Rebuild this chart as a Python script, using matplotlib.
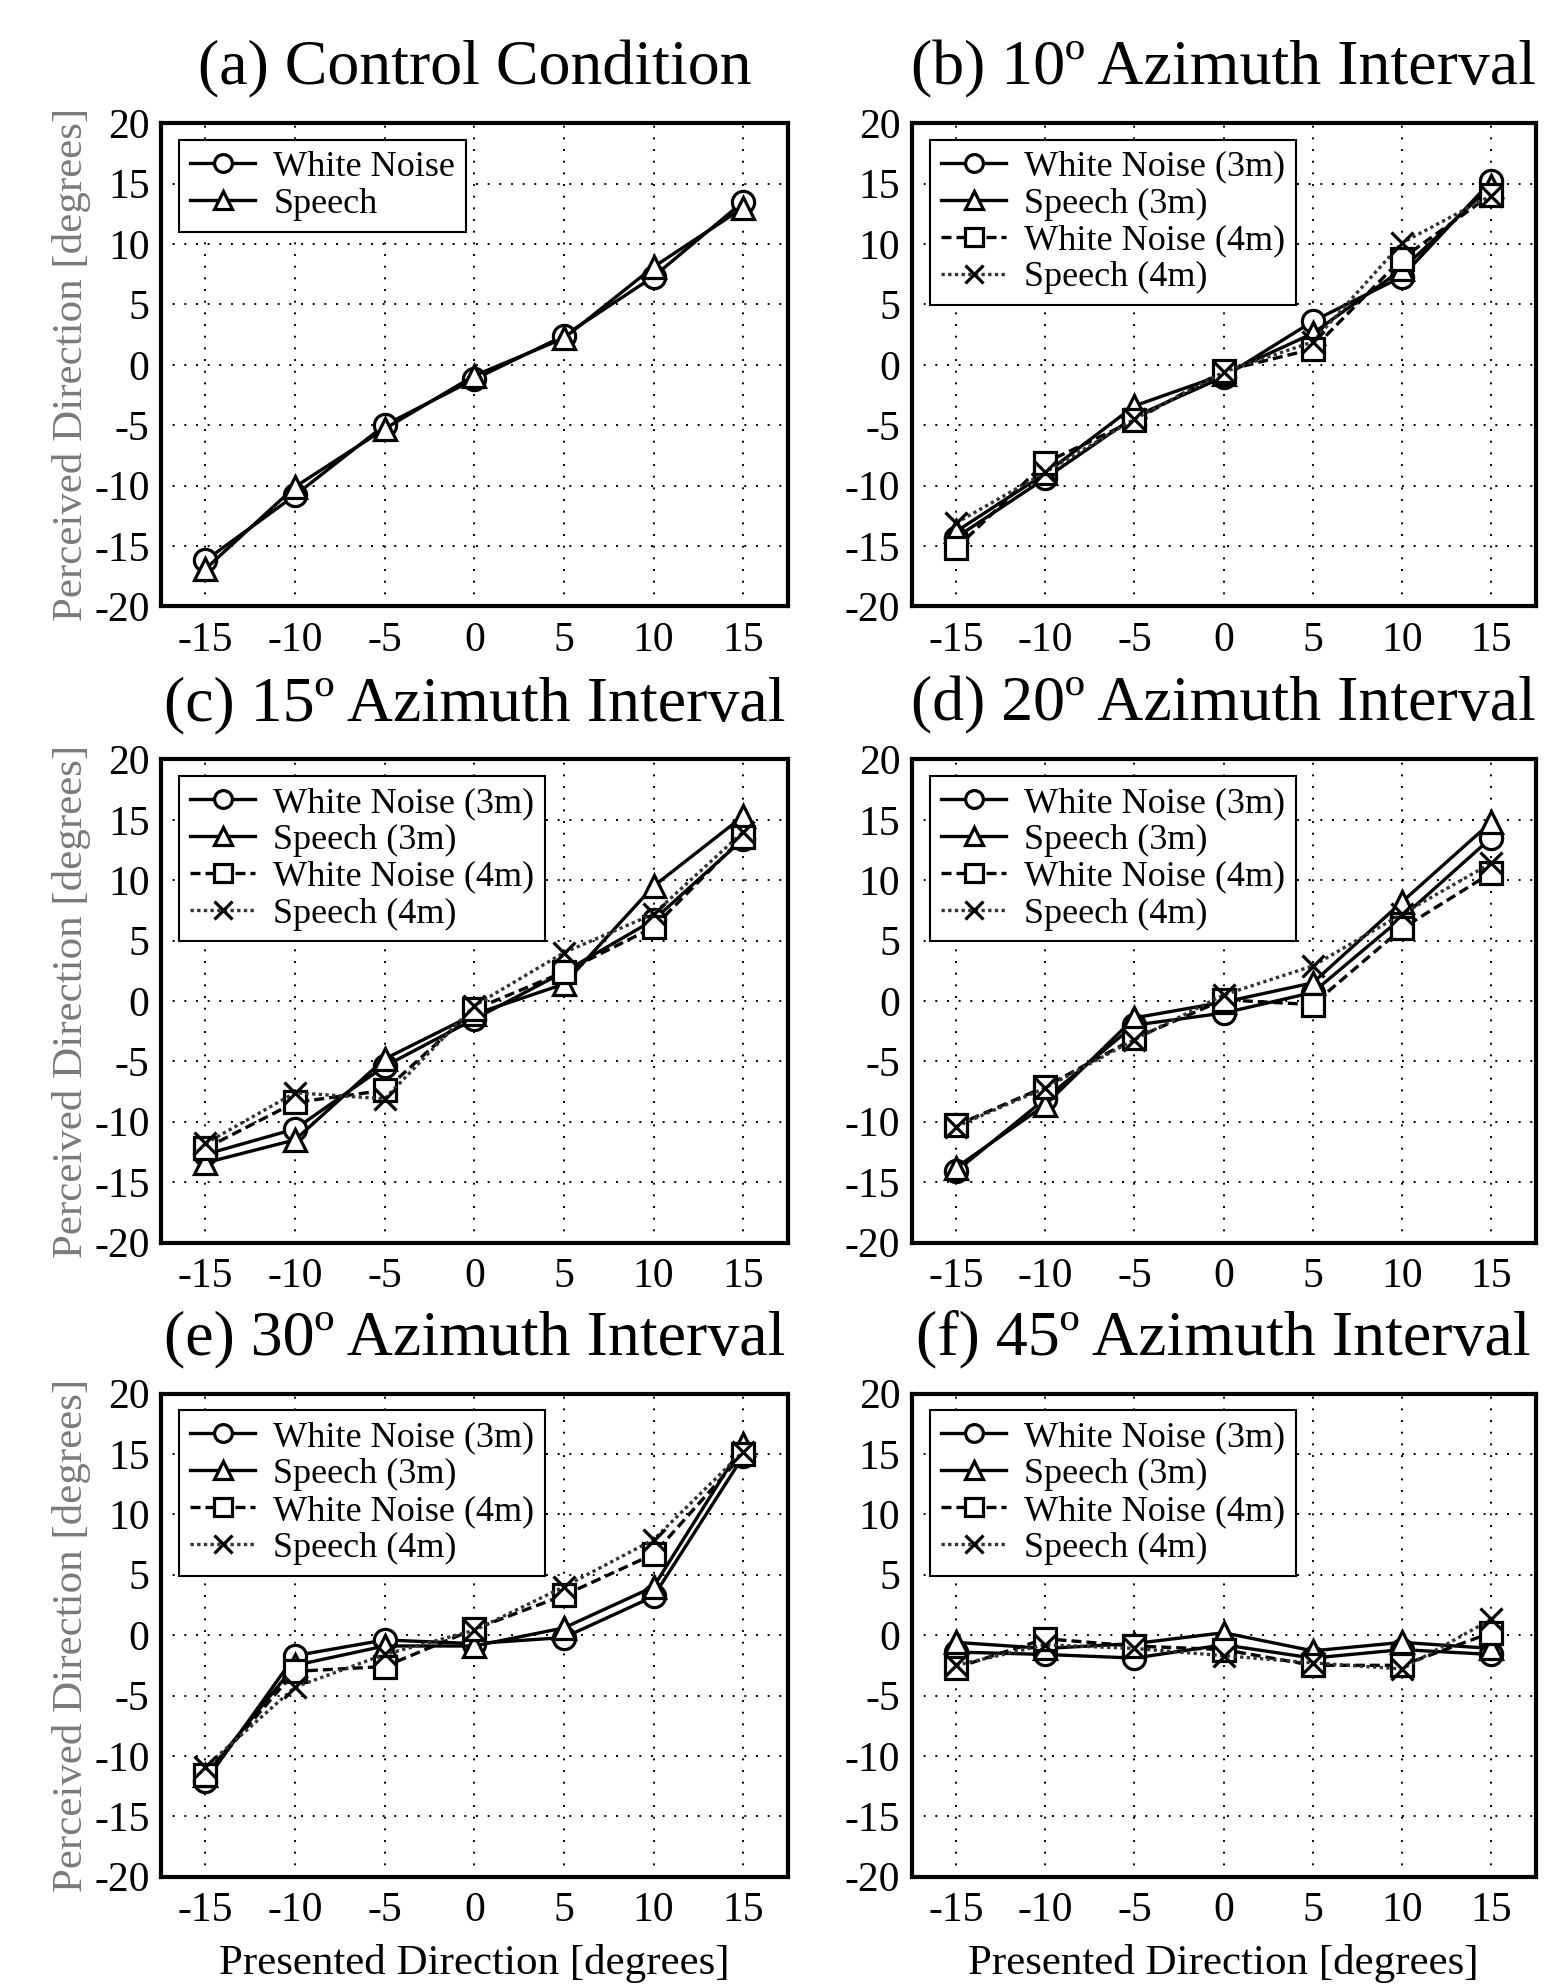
import matplotlib
matplotlib.use("Agg")
import matplotlib.pyplot as plt

plt.rcParams['font.family'] = 'serif'
plt.rcParams['font.serif'] = ['Liberation Serif', 'DejaVu Serif']
plt.rcParams['axes.unicode_minus'] = False

presented = [-15, -10, -5, 0, 5, 10, 15]

titles = ["(a) Control Condition", "(b) 10º Azimuth Interval",
          "(c) 15º Azimuth Interval", "(d) 20º Azimuth Interval",
          "(e) 30º Azimuth Interval", "(f) 45º Azimuth Interval"]

# (a) control condition: only two series
ctrl_noise = [-16.2, -10.8, -5.0, -1.2, 2.4, 7.3, 13.5]
ctrl_speech = [-16.9, -10.1, -5.3, -0.9, 2.2, 8.1, 13.0]

# (b) 10 deg
b_noise3 = [-14.3, -9.4, -4.3, -1.0, 3.6, 7.3, 15.2]
b_speech3 = [-13.8, -9.0, -3.4, -0.8, 2.6, 7.9, 14.8]
b_noise4 = [-15.2, -8.1, -4.6, -0.5, 1.3, 8.8, 14.1]
b_speech4 = [-13.1, -8.9, -4.5, -0.6, 1.9, 10.1, 14.0]

# (c) 15 deg
c_noise3 = [-12.7, -10.6, -5.4, -1.5, 2.4, 6.7, 13.4]
c_speech3 = [-13.4, -11.5, -4.8, -1.1, 1.4, 9.5, 15.3]
c_noise4 = [-12.2, -8.4, -7.4, -0.7, 2.4, 6.1, 13.6]
c_speech4 = [-11.8, -7.6, -8.1, -0.4, 4.0, 7.2, 14.0]

# (d) 20 deg
d_noise3 = [-14.1, -8.1, -2.0, -1.0, 0.7, 6.9, 13.5]
d_speech3 = [-13.8, -8.6, -1.4, -0.1, 1.5, 8.2, 14.8]
d_noise4 = [-10.3, -7.1, -3.1, 0.1, -0.3, 6.0, 10.6]
d_speech4 = [-10.4, -7.2, -3.2, 0.5, 2.9, 7.2, 11.4]

# (e) 30 deg
e_noise3 = [-12.1, -1.7, -0.4, -0.7, -0.2, 3.2, 14.8]
e_speech3 = [-11.6, -2.5, -0.9, -0.9, 0.6, 4.0, 15.8]
e_noise4 = [-11.6, -3.0, -2.6, 0.5, 3.3, 6.7, 15.0]
e_speech4 = [-10.9, -4.3, -1.6, 0.4, 4.0, 7.9, 15.2]

# (f) 45 deg
f_noise3 = [-1.4, -1.6, -1.9, -0.8, -1.9, -1.2, -1.6]
f_speech3 = [-0.6, -1.1, -0.7, 0.2, -1.3, -0.6, -1.1]
f_noise4 = [-2.7, -0.3, -0.9, -1.2, -2.5, -2.5, 0.2]
f_speech4 = [-2.5, -0.8, -1.1, -1.7, -2.3, -2.8, 1.3]

panels = [
    [ctrl_noise, ctrl_speech],
    [b_noise3, b_speech3, b_noise4, b_speech4],
    [c_noise3, c_speech3, c_noise4, c_speech4],
    [d_noise3, d_speech3, d_noise4, d_speech4],
    [e_noise3, e_speech3, e_noise4, e_speech4],
    [f_noise3, f_speech3, f_noise4, f_speech4],
]

labels4 = ["White Noise (3m)", "Speech (3m)", "White Noise (4m)", "Speech (4m)"]
labels2 = ["White Noise", "Speech"]
styles = [
    dict(marker='o', ls='-', color='black'),
    dict(marker='^', ls='-', color='black'),
    dict(marker='s', ls=(0, (3, 1.5)), color='black'),
    dict(marker='x', ls=(0, (1, 1)), color='#333333'),
]

fig = plt.figure(figsize=(15.45, 19.88), dpi=100)

lefts = [0.104, 0.590]
widths = [0.406, 0.404]
bottoms = [0.695, 0.375, 0.056]
height = 0.243

for i, series in enumerate(panels):
    row, col = divmod(i, 2)
    ax = fig.add_axes([lefts[col], bottoms[row], widths[col], height])
    labs = labels2 if len(series) == 2 else labels4
    for y, st, lab in zip(series, styles, labs):
        ax.plot(presented, y, marker=st['marker'], ls=st['ls'], color=st['color'],
                lw=2.4, ms=16, mfc='white', mec='black', mew=2.3, label=lab)
    ax.set_xlim(-17.5, 17.5)
    ax.set_ylim(-20, 20)
    ax.set_xticks(presented)
    ax.set_yticks(range(-20, 21, 5))
    ax.grid(True, ls=(0, (1, 5)), color='black', lw=1.4)
    ax.tick_params(labelsize=30, direction='in', length=0, pad=8)
    ax.tick_params(axis='x', pad=11)
    for sp in ax.spines.values():
        sp.set_linewidth(3)
    ax.set_title(titles[i], fontsize=46, pad=28)
    if col == 0:
        ax.set_ylabel("Perceived Direction [degrees]", fontsize=31, color='#7a7a7a', labelpad=2)
    if row == 2:
        ax.set_xlabel("Presented Direction [degrees]", fontsize=31, labelpad=10)
    leg = ax.legend(loc='upper left', bbox_to_anchor=(0.03, 0.966), borderaxespad=0,
                    fontsize=26, handlelength=1.8, handletextpad=0.5, labelspacing=0.1,
                    fancybox=False, framealpha=1, edgecolor='black', borderpad=0.3,
                    markerscale=0.8)
    leg.get_frame().set_linewidth(1.5)

fig.savefig("out.png", dpi=100)
